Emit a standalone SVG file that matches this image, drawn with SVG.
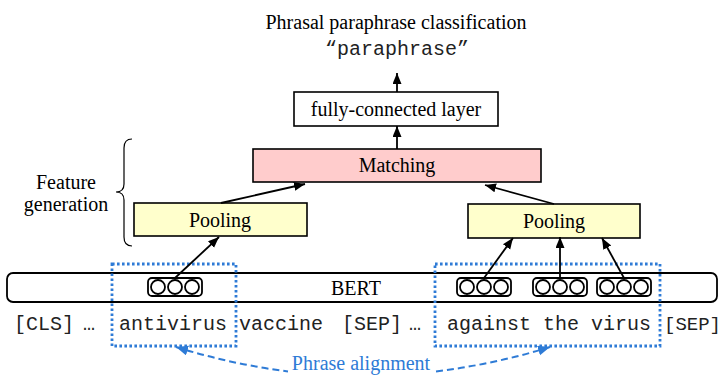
<svg xmlns="http://www.w3.org/2000/svg" width="722" height="376" viewBox="0 0 722 376">
<style>
.serif{font-family:"Liberation Serif","Times New Roman",serif;font-size:20px;fill:#000}
.mono{font-family:"Liberation Mono","Courier New",monospace;font-size:20px;fill:#222}
.box{stroke:#000;stroke-width:1.6}
.arr{stroke:#000;stroke-width:1.8;fill:none;marker-end:url(#ah)}
.vec rect,.vec circle{fill:#fff;stroke:#000;stroke-width:1.8}
.align{fill:none;stroke:#2E7BD6;stroke-width:2.8;stroke-dasharray:2.6 2.4}
.blue{fill:#2E7BD6}
</style>
<defs>
<marker id="ah" markerUnits="userSpaceOnUse" markerWidth="12" markerHeight="10" refX="11" refY="4.5" orient="auto">
<path d="M0,0 L11,4.5 L0,9 z" fill="#000"/>
</marker>
<marker id="bh" markerUnits="userSpaceOnUse" markerWidth="13" markerHeight="11" refX="12" refY="5" orient="auto-start-reverse">
<path d="M0,0 L12,5 L0,10 z" fill="#2E7BD6"/>
</marker>
</defs>

<g id="title">
<text class="serif" x="396" y="29" text-anchor="middle">Phrasal paraphrase classification</text>
<text class="mono" x="397" y="55" text-anchor="middle">“paraphrase”</text>
</g>

<g id="fc">
<rect class="box" x="294" y="92" width="204" height="34" fill="#fff"/>
<text class="serif" x="396" y="116" text-anchor="middle">fully-connected layer</text>
</g>

<g id="matching">
<rect class="box" x="253" y="149" width="288" height="33" fill="#FFCCCC"/>
<text class="serif" x="397" y="171.5" text-anchor="middle">Matching</text>
</g>

<g id="pool-left">
<rect class="box" x="134" y="203" width="173" height="33" fill="#FFFFCC"/>
<text class="serif" x="220" y="226.5" text-anchor="middle">Pooling</text>
</g>

<g id="pool-right">
<rect class="box" x="468" y="204" width="172" height="34" fill="#FFFFCC"/>
<text class="serif" x="554" y="227.5" text-anchor="middle">Pooling</text>
</g>

<g id="feature-gen">
<path d="M132,139 Q124,139 124,148 L124,184 Q124,192 116,192 Q124,192 124,200 L124,237 Q124,246 132,246" fill="none" stroke="#000" stroke-width="1.2"/>
<text class="serif" x="66" y="189" text-anchor="middle">Feature</text>
<text class="serif" x="66" y="211" text-anchor="middle">generation</text>
</g>

<g id="bert">
<rect x="7" y="273" width="710" height="29" rx="6" fill="#fff" stroke="#000" stroke-width="1.8"/>
<text class="serif" x="356" y="295" text-anchor="middle">BERT</text>
</g>

<g id="vec-left" class="vec">
<rect x="148" y="278" width="54" height="18" rx="4"/>
<circle cx="158" cy="287" r="7"/><circle cx="175" cy="287" r="7"/><circle cx="192" cy="287" r="7"/>
</g>
<g id="vec-r1" class="vec">
<rect x="457" y="278" width="54" height="18" rx="4"/>
<circle cx="467" cy="287" r="7"/><circle cx="484" cy="287" r="7"/><circle cx="501" cy="287" r="7"/>
</g>
<g id="vec-r2" class="vec">
<rect x="533" y="278" width="54" height="18" rx="4"/>
<circle cx="543" cy="287" r="7"/><circle cx="560" cy="287" r="7"/><circle cx="577" cy="287" r="7"/>
</g>
<g id="vec-r3" class="vec">
<rect x="597" y="278" width="54" height="18" rx="4"/>
<circle cx="607" cy="287" r="7"/><circle cx="624" cy="287" r="7"/><circle cx="641" cy="287" r="7"/>
</g>

<g id="tokens">
<text class="mono" x="14" y="330">[CLS]</text>
<text class="mono" x="83" y="330">…</text>
<text class="mono" x="119" y="330">antivirus</text>
<text class="mono" x="239" y="330">vaccine</text>
<text class="mono" x="342" y="330">[SEP]</text>
<text class="mono" x="409" y="330">…</text>
<text class="mono" x="447" y="330">against the virus</text>
<text class="mono" x="664" y="330" style="font-size:19px">[SEP]</text>
</g>

<g id="phrase-left">
<rect class="align" x="112" y="264" width="124" height="82"/>
</g>
<g id="phrase-right">
<rect class="align" x="435" y="264" width="225" height="82"/>
</g>

<g id="connectors">
<line class="arr" x1="397" y1="92" x2="397" y2="73"/>
<line class="arr" x1="397" y1="149" x2="397" y2="126"/>
<line class="arr" x1="221" y1="203" x2="305" y2="184"/>
<line class="arr" x1="554" y1="204" x2="485" y2="185"/>
<line class="arr" x1="175" y1="278" x2="219" y2="237"/>
<line class="arr" x1="484" y1="278" x2="513" y2="238"/>
<line class="arr" x1="560" y1="278" x2="560" y2="237"/>
<line class="arr" x1="624" y1="278" x2="602" y2="238"/>
<path d="M176,347 Q232,364.4 288,371.4" fill="none" stroke="#2E7BD6" stroke-width="2" stroke-dasharray="7 4" marker-start="url(#bh)"/>
<path d="M436,371.4 Q494,364.4 550,347" fill="none" stroke="#2E7BD6" stroke-width="2" stroke-dasharray="7 4" marker-end="url(#bh)"/>
</g>

<g id="alignment-label">
<text class="serif blue" x="361" y="370" text-anchor="middle">Phrase alignment</text>
</g>
</svg>
